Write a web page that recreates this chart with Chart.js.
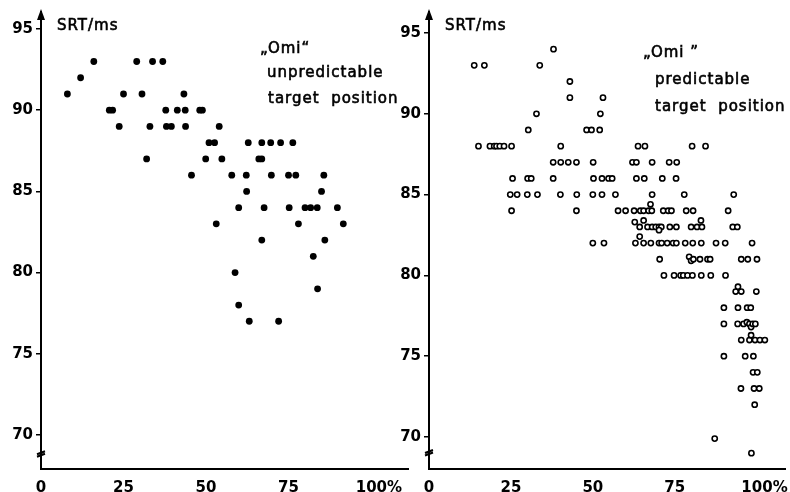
<!DOCTYPE html>
<html>
<head>
<meta charset="utf-8">
<script src="https://cdn.jsdelivr.net/npm/chart.js@4.4.0/dist/chart.umd.min.js"></script>
<style>
  html, body { margin: 0; padding: 0; background: #fff; }
  #wrap { position: relative; width: 790px; height: 492px; overflow: hidden; }
  .panel { position: absolute; top: 0; }
</style>
</head>
<body>
<div id="wrap">
  <div class="panel" style="left:0px"><canvas id="unpredChart" width="415" height="492"></canvas></div>
  <div class="panel" style="left:380px"><canvas id="predChart" width="410" height="492"></canvas></div>
</div>
<script>
const xTicks = [0, 25, 50, 75, 100];
const yTicks = [70, 75, 80, 85, 90, 95];

// "Omi", unpredictable target position (filled dots)
const unpredPct = [
  8, 12, 16, 20.7, 21.7, 23.7, 25, 29, 30.6, 32, 33, 33.8, 36.9, 37.8, 38, 39.5,
  41.3, 43.3, 43.7, 43.8, 45.6, 48.1, 48.9, 49.9, 50.9, 52.6, 54, 54.8, 53.1,
  57.8, 59.9, 62.2, 62.3, 62.8, 66, 66.9, 66.9, 67.6, 66.9, 69.6, 69.8, 72.6,
  75, 77.2, 76.3, 75.2, 78, 80, 81.7, 83.7, 85, 85.7, 86, 89.8, 91.6,
  58.8, 59.9, 63.1, 72, 82.5, 83.8
];
const unpredSrt = [
  91, 92, 93, 90, 90, 89, 91, 93, 91, 87, 89, 93, 93, 90, 89, 89,
  90, 91, 90, 89, 86, 90, 90, 87, 88, 88, 89, 87, 83,
  86, 84, 86, 85, 88, 87, 87, 88, 84, 82, 88, 86, 88,
  86, 86, 88, 84, 83, 84, 84, 84, 85, 86, 82, 84, 83,
  80, 78, 77, 77, 81, 79
];

// "Omi", predictable target position (open circles)
const predPct = [
  38,
  13.8, 16.9, 33.8,
  43,
  43, 53.1,
  32.8, 52.3,
  30.3, 48.1, 49.6, 52.1,
  15.1, 18.6, 19.9, 20.6, 21.6, 22.9, 25.2, 40.2, 63.8, 65.9, 80.3, 84.4,
  37.9, 40.2, 42.5, 45, 50.1, 62.1, 63.3, 68.1, 73.3, 75.6,
  25.5, 30.1, 31.2, 37.9, 50.2, 52.8, 54.8, 55.9, 63.3, 65.7, 71.2, 75.4,
  24.8, 26.9, 30, 33.1, 40.1, 45.1, 50, 52.8, 56.9, 68.1, 77.9, 93,
  25.2, 45, 57.7, 60, 62.6, 64.5, 65.5, 67, 68, 71.5, 73, 74, 78.5, 80.6, 91.3, 67.6,
  62.8, 64.3, 65.5, 66.7, 68.1, 69.2, 70.2, 70.9, 70.2, 73.5, 75.5, 80, 81.8, 83.3, 83, 92.7, 94.1,
  50, 53.4, 63, 64.3, 65.5, 67.7, 70.2, 71, 72.7, 74.5, 75.5, 78.2, 80.5, 83.1, 87.6, 90.4, 98.6,
  70.4, 79.4, 80, 80.7, 82.7, 85, 85.8, 95.3, 97.3, 100.1,
  71.7, 74.8, 76.8, 77.6, 78.9, 80.4, 83.1, 86, 90.5,
  93.6, 94.3, 95.3, 99.9,
  90, 94.3, 97.1, 98.2,
  90, 94.2, 96, 97, 97.8, 98.3, 98.8, 99.6,
  95.3, 97.8, 98.3, 99.5, 101, 102.5,
  90, 96.5, 99,
  98.9, 100.2,
  95.2, 99.2, 100.8,
  99.4,
  87.2,
  98.4
];
const predSrt = [
  94,
  93, 93, 93,
  92,
  91, 91,
  90, 90,
  89, 89, 89, 89,
  88, 88, 88, 88, 88, 88, 88, 88, 88, 88, 88, 88,
  87, 87, 87, 87, 87, 87, 87, 87, 87, 87,
  86, 86, 86, 86, 86, 86, 86, 86, 86, 86, 86, 86,
  85, 85, 85, 85, 85, 85, 85, 85, 85, 85, 85, 85,
  84, 84, 84, 84, 84, 84, 84, 84, 84, 84, 84, 84, 84, 84, 84, 84.4,
  83.3, 83, 83.4, 83, 83, 83, 83, 83, 82.8, 83, 83, 83, 83, 83, 83.4, 83, 83,
  82, 82, 82, 82.4, 82, 82, 82, 82, 82, 82, 82, 82, 82, 82, 82, 82, 82,
  81, 81.15, 80.9, 81, 81, 81, 81, 81, 81, 81,
  80, 80, 80, 80, 80, 80, 80, 80, 80,
  79, 79.3, 79, 79,
  78, 78, 78, 78,
  77, 77, 77, 77.1, 77, 76.8, 77, 77,
  76, 76, 76.3, 76, 76, 76,
  75, 75, 75,
  74, 74,
  73, 73, 73,
  72,
  69.9,
  69
];

const FONT = '"DejaVu Sans", sans-serif';

// arrowhead, axis break and the free-standing texts
const axisDecor = {
  id: 'axisDecor',
  afterDraw(chart, args, opts) {
    const { ctx, chartArea } = chart;
    const x0 = chartArea.left;
    ctx.save();
    ctx.fillStyle = '#000';
    ctx.strokeStyle = '#000';

    ctx.beginPath();
    ctx.moveTo(x0, chartArea.top - 3);
    ctx.lineTo(x0 - 4, chartArea.top + 8);
    ctx.lineTo(x0 + 4, chartArea.top + 8);
    ctx.closePath();
    ctx.fill();

    const yb = chart.scales.y.getPixelForValue(opts.breakAt);
    ctx.lineWidth = 2;
    ctx.beginPath();
    ctx.moveTo(x0 - 4, yb + 1.5);
    ctx.lineTo(x0 + 4, yb - 1.5);
    ctx.moveTo(x0 - 4, yb + 4);
    ctx.lineTo(x0 + 4, yb + 1);
    ctx.stroke();

    // medium-weight lettering: regular face with a thin outline
    ctx.font = '15px ' + FONT;
    ctx.letterSpacing = '1px';
    ctx.textBaseline = 'alphabetic';
    ctx.textAlign = 'left';
    ctx.lineWidth = 0.6;
    const put = (text, x, y) => { ctx.fillText(text, x, y); ctx.strokeText(text, x, y); };
    put('SRT/ms', x0 + 16, 30);
    opts.lines.forEach(l => put(l.text, l.x, l.y));
    ctx.restore();
  }
};

function makeChart(id, xs, ys, point, axis, lines) {
  const points = xs.map((x, i) => ({ x: x, y: ys[i] }));
  return new Chart(document.getElementById(id), {
    type: 'scatter',
    data: {
      datasets: [{
        data: points,
        pointRadius: point.radius,
        pointHoverRadius: point.radius,
        pointBackgroundColor: point.fill,
        pointBorderColor: '#000',
        pointBorderWidth: point.border
      }]
    },
    options: {
      responsive: false,
      animation: false,
      events: [],
      layout: { padding: { top: 12, right: axis.padRight, left: 0, bottom: 0 } },
      plugins: {
        legend: { display: false },
        tooltip: { enabled: false },
        axisDecor: { breakAt: axis.breakAt, lines: lines }
      },
      scales: {
        x: {
          type: 'linear',
          min: 0,
          max: axis.xMax,
          afterBuildTicks: s => { s.ticks = xTicks.map(v => ({ value: v })); },
          afterFit: s => { s.height = 23; },
          grid: { display: false },
          border: { display: true, color: '#000', width: 2 },
          ticks: {
            color: '#000',
            padding: 2,
            font: { family: FONT, size: 15, weight: 'bold' },
            // "%" hangs to the right of the last number
            callback: v => (v === 100 ? '   100%' : String(v))
          }
        },
        y: {
          type: 'linear',
          min: axis.yMin,
          max: axis.yMax,
          afterBuildTicks: s => { s.ticks = yTicks.map(v => ({ value: v })); },
          afterFit: s => { s.width = axis.yWidth; },
          grid: {
            display: true,
            drawOnChartArea: false,
            drawTicks: true,
            tickLength: 5,
            color: '#000',
            lineWidth: 1.5
          },
          border: { display: true, color: '#000', width: 2 },
          ticks: {
            color: '#000',
            padding: 3,
            font: { family: FONT, size: 15, weight: 'bold' }
          }
        }
      }
    },
    plugins: [axisDecor]
  });
}

makeChart('unpredChart', unpredPct, unpredSrt,
  { radius: 3.4, fill: '#000', border: 0 },
  { xMax: 111.2, yMin: 67.9, yMax: 96.05, yWidth: 41, padRight: 7, breakAt: 68.9 },
  [
    { text: '\u201EOmi\u201C', x: 260, y: 53 },
    { text: 'unpredictable', x: 267, y: 77 },
    { text: 'target  position', x: 268, y: 103 }
  ]);

makeChart('predChart', predPct, predSrt,
  { radius: 2.6, fill: '#fff', border: 1.6 },
  { xMax: 108.8, yMin: 68.02, yMax: 96.3, yWidth: 49, padRight: 2, breakAt: 69.1 },
  [
    { text: '\u201EOmi \u201D', x: 263, y: 57 },
    { text: 'predictable', x: 275, y: 84 },
    { text: 'target  position', x: 275, y: 111 }
  ]);
</script>
</body>
</html>
